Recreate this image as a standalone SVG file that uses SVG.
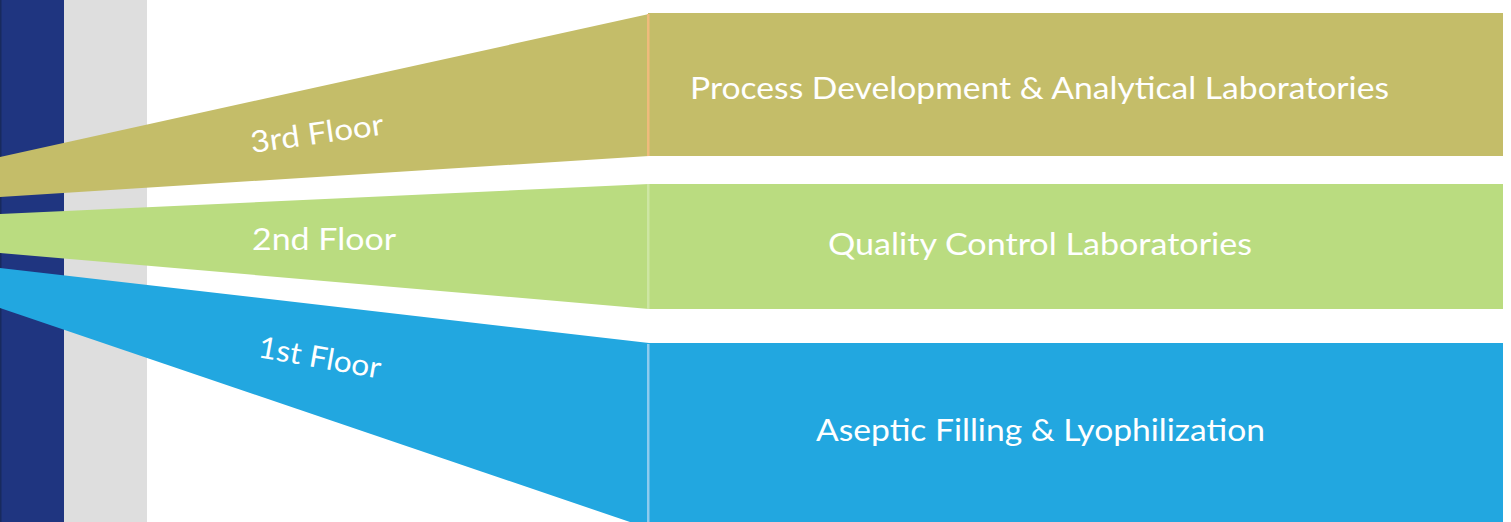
<svg xmlns="http://www.w3.org/2000/svg" width="1511" height="522" viewBox="0 0 1511 522">
<style>
.lbl{font-family:"Lato","Open Sans","Liberation Sans",sans-serif;font-size:30px;fill:#ffffff;}
.olive{fill:#c4bd69;}
.green{fill:#badc80;}
.blue{fill:#22a7e0;}
</style>
<rect x="0" y="0" width="1511" height="522" fill="#ffffff"/>
<g id="column">
<rect x="0" y="0" width="64" height="522" fill="#1f3580"/>
<rect x="0" y="0" width="1.5" height="522" fill="#182a5e"/>
<rect x="64" y="0" width="83" height="522" fill="#dedede"/>
</g>
<g id="floor3">
<polygon class="olive" points="0,157 649,14 649,156 0,197"/>
<rect class="olive" x="648" y="13" width="855" height="143"/>
<rect x="647" y="14" width="2.5" height="142" fill="#efbb7c"/>
<text class="lbl" transform="translate(252,153) rotate(-8)" textLength="134" lengthAdjust="spacingAndGlyphs">3rd Floor</text>
<text class="lbl" x="690" y="99" textLength="699" lengthAdjust="spacingAndGlyphs">Process Development &amp; Analytical Laboratories</text>
</g>
<g id="floor2">
<polygon class="green" points="0,214 649,184 649,309 0,253"/>
<rect class="green" x="648" y="184" width="855" height="125"/>
<rect x="647" y="184" width="2.5" height="125" fill="#cde6a3"/>
<text class="lbl" x="252" y="250" textLength="144" lengthAdjust="spacingAndGlyphs">2nd Floor</text>
<text class="lbl" x="828" y="255" textLength="424" lengthAdjust="spacingAndGlyphs">Quality Control Laboratories</text>
</g>
<g id="floor1">
<polygon class="blue" points="0,268 649,343 649,522 630,522 0,308"/>
<rect class="blue" x="648" y="343" width="855" height="179"/>
<rect x="647" y="344" width="2.5" height="178" fill="#8ecbee"/>
<text class="lbl" transform="translate(257,357) rotate(10)" textLength="124" lengthAdjust="spacingAndGlyphs">1st Floor</text>
<text class="lbl" x="816" y="441" textLength="449" lengthAdjust="spacingAndGlyphs">Aseptic Filling &amp; Lyophilization</text>
</g>
<g id="connectors"></g>
</svg>
